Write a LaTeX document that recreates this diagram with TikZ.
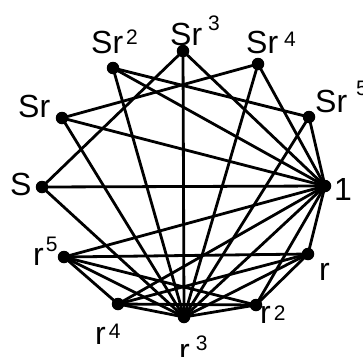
\documentclass[tikz,border=0pt]{standalone}
\usepackage{fontspec}
\setmainfont{Liberation Sans}
\usetikzlibrary{backgrounds}
\newcommand\supx[3]{\hspace{#1pt}\raisebox{#2pt}{\fontsize{21}{21}\selectfont #3}}
\begin{document}
\begin{tikzpicture}[x=1pt,y=-1pt,
  dot/.style={circle,fill=black,inner sep=0pt,minimum size=12.5pt},
  lbl/.style={anchor=base west,inner sep=0pt,font=\fontsize{32}{32}\selectfont},
  edge/.style={line width=2.8pt,black}]
\useasboundingbox (0,0) rectangle (363,356);
% vertices
\node[dot] (e)  at (325,186) {};
\node[dot] (r1) at (308,254) {};
\node[dot] (r2) at (256,305) {};
\node[dot] (r3) at (184,317) {};
\node[dot] (r4) at (118,304) {};
\node[dot] (r5) at (64,257) {};
\node[dot] (s0) at (42,187) {};
\node[dot] (s1) at (62,118) {};
\node[dot] (s2) at (113,68) {};
\node[dot] (s3) at (183,51) {};
\node[dot] (s4) at (258,64) {};
\node[dot] (s5) at (309,117) {};
% edges
\begin{scope}[on background layer]
\foreach \v in {r1,r2,r3,r4,r5,s0,s1,s2,s3,s4,s5}
  \draw[edge] (e.center) -- (\v.center);
\foreach \v in {r1,r2,r4,r5,s0,s1,s2,s3,s4,s5}
  \draw[edge] (r3.center) -- (\v.center);
\draw[edge] (r1.center) -- (r2.center);
\draw[edge] (r1.center) -- (r4.center);
\draw[edge] (r1.center) -- (r5.center);
\draw[edge] (r2.center) -- (r4.center);
\draw[edge] (r2.center) -- (r5.center);
\draw[edge] (r4.center) -- (r5.center);
\draw[edge] (s0.center) -- (s3.center);
\draw[edge] (s1.center) -- (s4.center);
\draw[edge] (s2.center) -- (s5.center);
\end{scope}
% labels
\node[lbl] (le)  at (334,200) {1};
\node[lbl] (lr1) at (319,280) {r};
\node[lbl] (lr2) at (260,323) {r\supx{3}{3}{2}};
\node[lbl] (lr3) at (179,361) {r\supx{6}{11}{3}};
\node[lbl] (lr4) at (95,344) {r\supx{3}{6}{4}};
\node[lbl] (lr5) at (33,265) {r\supx{2}{14}{5}};
\node[lbl] (ls0) at (10,195) {S};
\node[lbl] (ls1) at (18,117) {Sr};
\node[lbl] (ls2) at (91,53) {Sr\supx{3}{9}{2}};
\node[lbl] (ls3) at (170,45) {Sr\supx{6}{15}{3}};
\node[lbl] (ls4) at (246,53) {Sr\supx{6}{7}{4}};
\node[lbl] (ls5) at (315,112) {Sr\supx{9}{17}{5}};
\end{tikzpicture}
\end{document}
